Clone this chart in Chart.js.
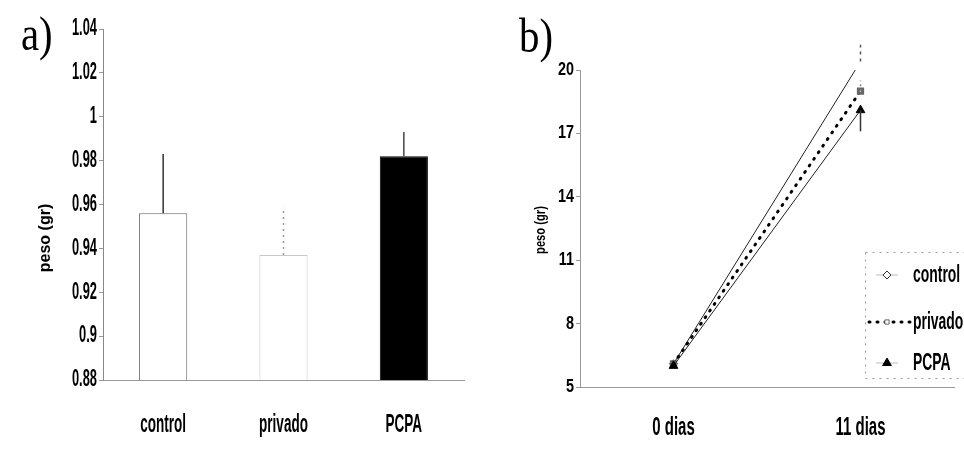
<!DOCTYPE html>
<html>
<head>
<meta charset="utf-8">
<script src="https://cdn.jsdelivr.net/npm/chart.js@4.4.0/dist/chart.umd.min.js"></script>
<style>
  body { margin: 0; background: #fff; width: 964px; height: 461px; position: relative; overflow: hidden; }
  #wa { position: absolute; left: 0; top: 0; width: 480px; height: 461px; }
  #wb { position: absolute; left: 480px; top: 0; width: 484px; height: 461px; }
  .tag { position: absolute; font-family: "Liberation Serif", "DejaVu Serif", serif; font-size: 48px; line-height: 1; color: #000; transform-origin: 0 0; transform: scaleX(0.85); }
</style>
</head>
<body>
<div id="wa"><canvas id="chartA"></canvas></div>
<div id="wb"><canvas id="chartB"></canvas></div>
<div class="tag" style="left:21px;top:10px">a)</div>
<div class="tag" style="left:519px;top:12px">b)</div>
<script>
// panel a: bars
var barLabels = ["control", "privado", "PCPA"];
var barValues = [0.956, 0.937, 0.982];
var barErrTop = [0.983, 0.959, 0.993];

// panel b: weight over days
var dayLabels = ["0 dias", "11 dias"];
var controlValues = [6.1, 20.4];
var privadoValues = [6.1, 19.0];
var pcpaValues = [6.0, 18.1];
var controlErr = [null, 21.2];
var privadoErr = [null, 19.5];
var pcpaErr = [null, 17.1];

var yTitle = "peso (gr)";
var fam = '"Liberation Sans", Arial, sans-serif';

Chart.defaults.font.family = fam;
Chart.defaults.color = "#000";

// narrow text: the scan uses a tall condensed face, so squeeze horizontally
function narrowText(ctx, text, x, y, o) {
  ctx.save();
  ctx.translate(x, y);
  if (o.rot) ctx.rotate(o.rot);
  ctx.scale(o.sx, 1);
  ctx.font = (o.weight || "bold") + " " + o.size + "px " + fam;
  ctx.textAlign = o.align || "center";
  ctx.textBaseline = o.baseline || "middle";
  ctx.fillStyle = "#000";
  ctx.fillText(text, 0, 0);
  ctx.restore();
}

var narrowLabels = {
  id: "narrowLabels",
  afterDraw: function (chart, args, o) {
    var ctx = chart.ctx;
    var xs = chart.scales.x, ys = chart.scales.y;
    chart.data.labels.forEach(function (lab, i) {
      narrowText(ctx, lab, xs.getPixelForValue(i), o.x.y, o.x);
    });
    ys.ticks.forEach(function (t) {
      narrowText(ctx, o.y.fmt(t.value), o.y.right, ys.getPixelForValue(t.value), o.y);
    });
    narrowText(ctx, o.title.text, o.title.x, o.title.y, o.title);
  }
};

var errorBars = {
  id: "errorBars",
  afterDatasetsDraw: function (chart) {
    var ctx = chart.ctx;
    var ys = chart.scales.y;
    chart.data.datasets.forEach(function (ds, i) {
      if (!ds.errTo) return;
      var meta = chart.getDatasetMeta(i);
      meta.data.forEach(function (el, j) {
        var e = ds.errTo[j];
        if (e == null) return;
        ctx.save();
        ctx.strokeStyle = ds.errColor[j];
        ctx.lineWidth = 1.5;
        ctx.setLineDash(ds.errDash[j]);
        ctx.beginPath();
        ctx.moveTo(el.x, el.y);
        ctx.lineTo(el.x, ys.getPixelForValue(e));
        ctx.stroke();
        ctx.restore();
      });
    });
  }
};

function fmt(v) {
  return String(Number(v.toFixed(2)));
}

new Chart(document.getElementById("chartA"), {
  type: "bar",
  data: {
    labels: barLabels,
    datasets: [{
      data: barValues,
      backgroundColor: ["#fff", "#fff", "#000"],
      borderColor: ["#666", "#c8c8c8", "#000"],
      borderWidth: 1,
      barPercentage: 0.8,
      categoryPercentage: 0.5,
      errTo: barErrTop,
      errColor: ["#333", "#999", "#444"],
      errDash: [[], [2, 4], []]
    }]
  },
  options: {
    responsive: true,
    maintainAspectRatio: false,
    animation: false,
    layout: { padding: { top: 29, right: 16, bottom: 0, left: 0 } },
    plugins: {
      legend: { display: false },
      tooltip: { enabled: false },
      narrowLabels: {
        x: { size: 25, sx: 0.54, y: 432, baseline: "alphabetic" },
        y: { size: 23, sx: 0.56, right: 97, align: "right", fmt: fmt },
        title: { text: yTitle, x: 46, y: 238, size: 16, sx: 1, rot: -Math.PI / 2 }
      }
    },
    scales: {
      x: {
        grid: { display: false },
        border: { color: "#999", dash: [2, 4] },
        ticks: { display: false },
        afterFit: function (s) { s.height = 81; }
      },
      y: {
        min: 0.88,
        max: 1.04,
        grid: { drawOnChartArea: false, tickLength: 4, color: "#999" },
        border: { color: "#888", dash: [2, 3] },
        ticks: { stepSize: 0.02, display: false },
        afterFit: function (s) { s.width = 103; }
      }
    }
  },
  plugins: [errorBars, narrowLabels]
});

var legendB = {
  id: "legendB",
  afterDraw: function (chart) {
    var ctx = chart.ctx;
    ctx.save();
    ctx.strokeStyle = "#999";
    ctx.lineWidth = 1;
    ctx.setLineDash([2, 5]);
    ctx.strokeRect(385.5, 252.5, 120, 126);
    ctx.restore();
    var rows = [275, 322, 363];
    chart.data.datasets.forEach(function (ds, i) {
      var y = rows[i];
      ctx.save();
      ctx.strokeStyle = ds.borderColor;
      ctx.lineWidth = ds.borderWidth;
      ctx.lineCap = ds.borderCapStyle || "butt";
      ctx.setLineDash(ds.borderDash || []);
      ctx.beginPath();
      if (i === 1) { ctx.moveTo(389, y); ctx.lineTo(430, y); }
      else { ctx.moveTo(396, y); ctx.lineTo(418, y); ctx.strokeStyle = "#bbb"; ctx.lineWidth = 1; }
      ctx.stroke();
      ctx.restore();
      ctx.save();
      ctx.fillStyle = ds.pointBackgroundColor;
      ctx.strokeStyle = ds.pointBorderColor;
      ctx.lineWidth = 1;
      Chart.helpers.drawPoint(ctx, { pointStyle: ds.pointStyle, radius: ds.pointRadius, rotation: 0, borderWidth: 1 }, 407, y);
      ctx.restore();
      narrowText(ctx, ds.label, 433, y, { size: 24, sx: 0.58, align: "left" });
    });
  }
};

new Chart(document.getElementById("chartB"), {
  type: "line",
  data: {
    labels: dayLabels,
    datasets: [
      {
        label: "control",
        data: controlValues,
        order: 2,
        borderColor: "#222",
        borderWidth: 1,
        pointStyle: "rectRot",
        pointRadius: 4,
        pointBackgroundColor: "#fff",
        pointBorderColor: "#333",
        errTo: controlErr,
        errColor: ["#555", "#555"],
        errDash: [[3, 4], [3, 4]]
      },
      {
        label: "privado",
        data: privadoValues,
        order: 1,
        borderColor: "#000",
        borderWidth: 3,
        borderDash: [1, 7],
        borderCapStyle: "round",
        pointStyle: "rect",
        pointRadius: 3,
        pointBackgroundColor: "#fff",
        pointBorderColor: "#666",
        errTo: privadoErr,
        errColor: ["#888", "#888"],
        errDash: [[2, 3], [2, 3]]
      },
      {
        label: "PCPA",
        data: pcpaValues,
        order: 0,
        borderColor: "#222",
        borderWidth: 1,
        pointStyle: "triangle",
        pointRadius: 5,
        pointBackgroundColor: "#000",
        pointBorderColor: "#000",
        errTo: pcpaErr,
        errColor: ["#333", "#333"],
        errDash: [[], []]
      }
    ]
  },
  options: {
    responsive: true,
    maintainAspectRatio: false,
    animation: false,
    layout: { padding: { top: 70, right: 10, bottom: 0, left: 0 } },
    plugins: {
      legend: { display: false },
      tooltip: { enabled: false },
      narrowLabels: {
        x: { size: 25, sx: 0.6, y: 435, baseline: "alphabetic" },
        y: { size: 18, sx: 0.8, right: 94, align: "right", fmt: fmt },
        title: { text: yTitle, x: 61, y: 230, size: 14, sx: 0.8, rot: -Math.PI / 2 }
      }
    },
    scales: {
      x: {
        offset: true,
        grid: { display: false },
        border: { color: "#999", dash: [2, 6] },
        ticks: { display: false },
        afterFit: function (s) { s.height = 74; }
      },
      y: {
        min: 5,
        max: 20,
        grid: { drawOnChartArea: false, tickLength: 4, color: "#999" },
        border: { color: "#999", dash: [2, 4] },
        ticks: { stepSize: 3, display: false },
        afterFit: function (s) { s.width = 100; }
      }
    }
  },
  plugins: [errorBars, legendB, narrowLabels]
});
</script>
</body>
</html>
